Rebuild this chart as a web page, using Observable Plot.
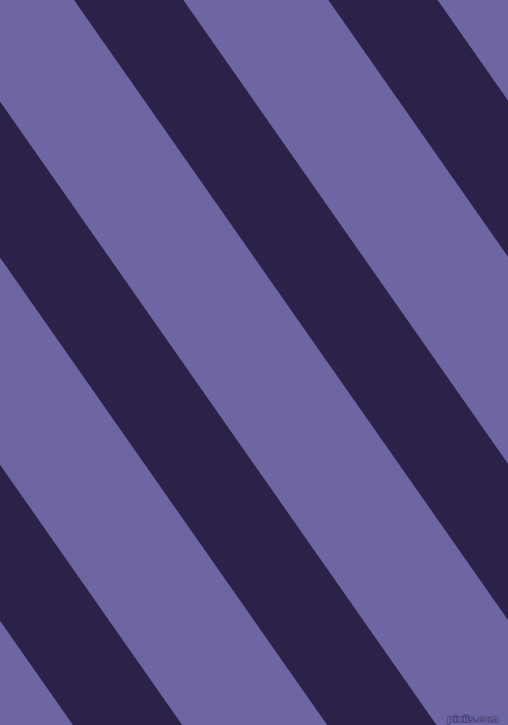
<!DOCTYPE html>
<html>
<head>
<meta charset="utf-8">
<script src="https://cdn.jsdelivr.net/npm/d3@7"></script>
<script src="https://cdn.jsdelivr.net/npm/@observablehq/plot@0.6"></script>
<style>
  html, body { margin: 0; padding: 0; background: #6e66a2; overflow: hidden; }
  #chart svg { display: block; }
</style>
</head>
<body>
<div id="chart"></div>
<script>
// Left edge (x at top row y=0) of each dark stripe, in pixels of the 508x725 canvas
const stripeStarts = [-434.6, -180.3, 74, 328.3];
// Horizontal width of each dark stripe
const stripeWidth = 109.3;
// Horizontal shift per unit of depth (stripes run down to the right)
const shear = 0.70;
// Rows at which the stripe edges are evaluated (top and bottom of canvas)
const rows = [0, 725];
const watermark = ["pixiis.com"];

const W = 508, H = 725;
const darkColor = "#2c2148";
const lightColor = "#6e66a2";

const table = stripeStarts.flatMap((s, i) =>
  rows.map(r => ({stripe: i, y: r, x1: s + shear * r, x2: s + stripeWidth + shear * r}))
);

const chart = Plot.plot({
  width: W,
  height: H,
  margin: 0,
  x: {domain: [0, W], axis: null},
  y: {domain: [0, H], reverse: true, axis: null},
  clip: true,
  style: {background: lightColor},
  marks: [
    Plot.areaX(table, {y: "y", x1: "x1", x2: "x2", z: "stripe", fill: darkColor, curve: "linear"}),
    Plot.text(watermark, {
      frameAnchor: "bottom-right", text: d => d, dx: -10, dy: -4,
      fontSize: 9, fontFamily: "DejaVu Sans", fontWeight: "bold",
      fill: "#6e66a2", stroke: "#3b3066", strokeWidth: 1.2, paintOrder: "stroke"
    })
  ]
});
document.getElementById("chart").append(chart);
</script>
</body>
</html>
